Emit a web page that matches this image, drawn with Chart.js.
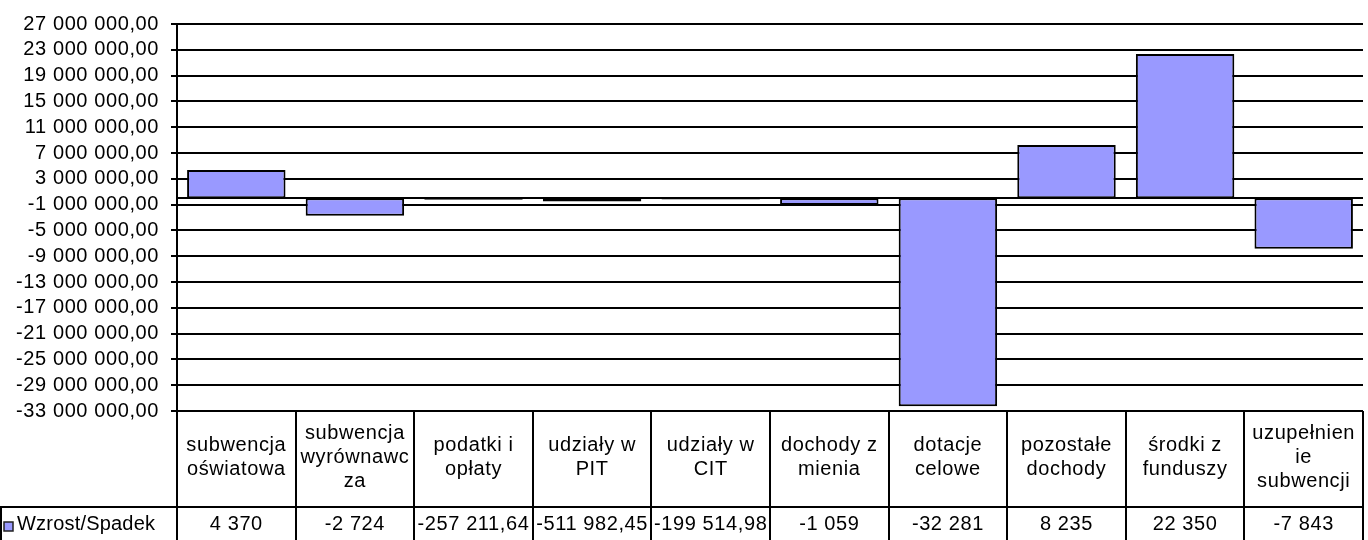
<!DOCTYPE html>
<html lang="pl">
<head>
<meta charset="UTF-8">
<title>Wzrost/Spadek</title>
<script src="https://cdn.jsdelivr.net/npm/chart.js"></script>
<style>
    html, body { margin: 0; padding: 0; background: #fff; }
    canvas { display: block; }
</style>
</head>
<body>
<canvas id="chart" width="1368" height="540"></canvas>
<script>
// category names as they wrap in the data table
const categories = [
    ['subwencja', 'oświatowa'],
    ['subwencja', 'wyrównawc', 'za'],
    ['podatki i', 'opłaty'],
    ['udziały w', 'PIT'],
    ['udziały w', 'CIT'],
    ['dochody z', 'mienia'],
    ['dotacje', 'celowe'],
    ['pozostałe', 'dochody'],
    ['środki z', 'funduszy'],
    ['uzupełnien', 'ie', 'subwencji']
];
const seriesName = 'Wzrost/Spadek';
const values = [4370000, -2724000, -257211.64, -511982.45, -199514.98, -1059000, -32281000, 8235000, 22350000, -7843000];
const tableLabels = ['4 370', '-2 724', '-257 211,64', '-511 982,45', '-199 514,98', '-1 059', '-32 281', '8 235', '22 350', '-7 843'];
const yMin = -33000000;
const yMax = 27000000;
const yStep = 4000000;

const FONT = '20px "Liberation Sans", Arial, sans-serif';
const BAR_FILL = '#9999ff';

function plNumber(v) {
    const neg = v < 0;
    const parts = Math.abs(v).toFixed(2).split('.');
    return (neg ? '-' : '') + parts[0].replace(/\B(?=(\d{3})+(?!\d))/g, ' ') + ',' + parts[1];
}

// zero line + data table under the plot
const tablePlugin = {
    id: 'dataTable',
    beforeDraw(chart) {
        chart.ctx.letterSpacing = '0.6px';
    },
    beforeDatasetsDraw(chart) {
        const {ctx, chartArea, scales} = chart;
        const y0 = Math.round(scales.y.getPixelForValue(0));
        ctx.save();
        ctx.strokeStyle = '#000';
        ctx.lineWidth = 2;
        ctx.beginPath();
        ctx.moveTo(chartArea.left, y0);
        ctx.lineTo(chartArea.right, y0);
        ctx.stroke();
        ctx.restore();
    },
    afterDraw(chart) {
        const {ctx, chartArea, scales} = chart;
        const x = scales.x;
        const n = categories.length;
        const colW = (x.right - x.left) / n;
        const top = chartArea.bottom;
        const rowSep = Math.round(top + 96);
        const bottom = chart.height;

        ctx.save();
        ctx.letterSpacing = '0.6px';
        ctx.strokeStyle = '#000';
        ctx.lineWidth = 2;
        ctx.beginPath();
        for (let i = 0; i <= n; i++) {
            const px = Math.round(x.getPixelForValue(i) - colW / 2);
            ctx.moveTo(px, top);
            ctx.lineTo(px, bottom);
        }
        ctx.moveTo(0, rowSep);
        ctx.lineTo(x.right, rowSep);
        ctx.moveTo(1, rowSep);
        ctx.lineTo(1, bottom);
        ctx.stroke();

        ctx.fillStyle = '#000';
        ctx.font = FONT;
        ctx.textAlign = 'center';
        ctx.textBaseline = 'middle';
        const lineH = 24;
        const midY = (top + rowSep) / 2 - 2;
        categories.forEach((lines, i) => {
            const cx = x.getPixelForValue(i);
            const y1 = midY - (lines.length - 1) * lineH / 2;
            lines.forEach((t, j) => ctx.fillText(t, cx, y1 + j * lineH));
            ctx.fillText(tableLabels[i], cx, (rowSep + bottom) / 2 + 1);
        });

        // legend key + series name
        ctx.fillStyle = BAR_FILL;
        ctx.fillRect(4, 522, 9, 9);
        ctx.lineWidth = 1.5;
        ctx.strokeStyle = '#222';
        ctx.strokeRect(4, 522, 9, 9);
        ctx.fillStyle = '#000';
        ctx.textAlign = 'left';
        ctx.letterSpacing = '0.2px';
        ctx.fillText(seriesName, 17, (rowSep + bottom) / 2 + 1);
        ctx.restore();
    }
};

const ctx = document.getElementById('chart').getContext('2d');
new Chart(ctx, {
    type: 'bar',
    data: {
        labels: categories,
        datasets: [{
            label: seriesName,
            data: values,
            backgroundColor: BAR_FILL,
            borderColor: '#000',
            borderWidth: 2,
            borderSkipped: false,
            categoryPercentage: 1,
            barPercentage: 0.83
        }]
    },
    options: {
        responsive: false,
        animation: false,
        devicePixelRatio: 1,
        layout: { padding: { left: 0, top: 22, right: 5, bottom: 129 } },
        plugins: {
            legend: { display: false },
            tooltip: { enabled: false }
        },
        scales: {
            x: { display: false },
            y: {
                min: yMin,
                max: yMax,
                afterFit(scale) { scale.width = 177; },
                ticks: {
                    stepSize: yStep,
                    autoSkip: false,
                    padding: 12,
                    color: '#000',
                    font: { family: '"Liberation Sans", Arial, sans-serif', size: 20 },
                    callback: v => plNumber(v)
                },
                grid: {
                    color: '#000',
                    lineWidth: 2,
                    tickLength: 6,
                    tickColor: '#000'
                },
                border: { display: true, color: '#000', width: 2 }
            }
        }
    },
    plugins: [tablePlugin]
});
</script>
</body>
</html>
